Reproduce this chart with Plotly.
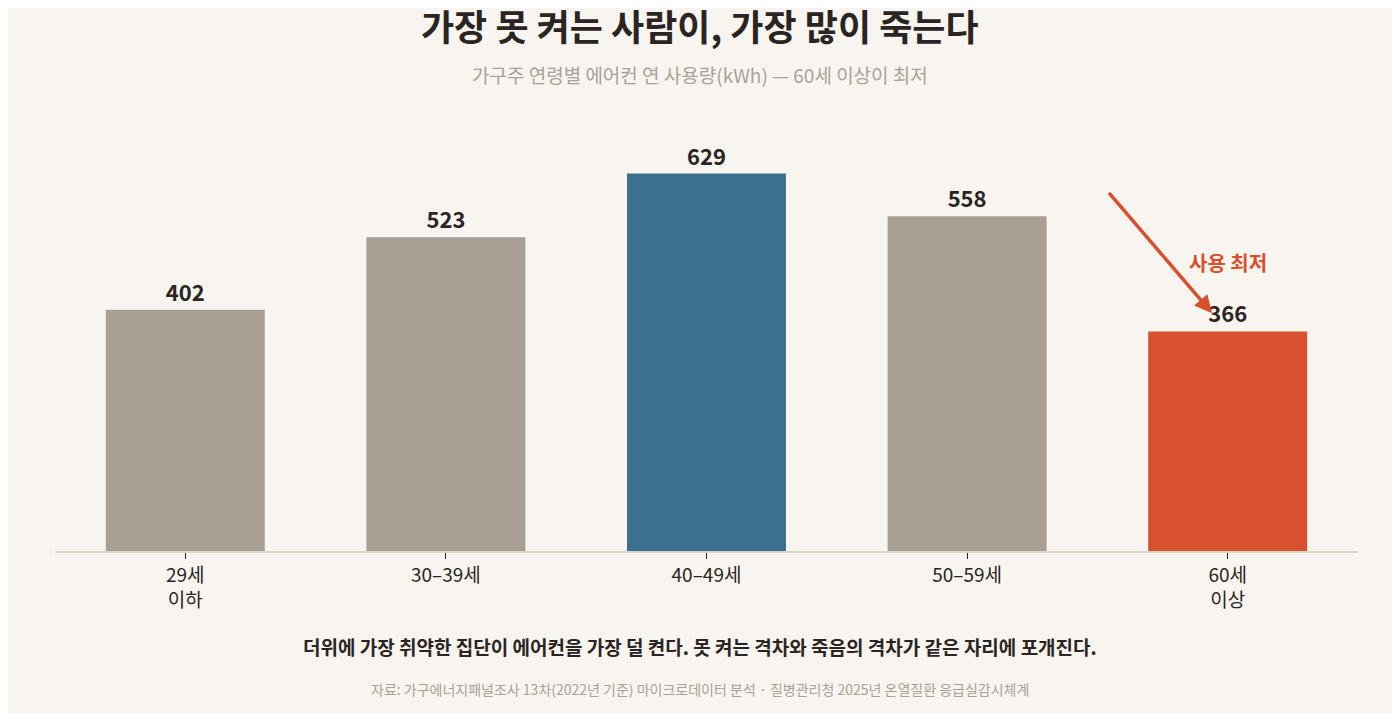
import plotly.graph_objects as go

categories = ["29세<br>이하", "30–39세", "40–49세", "50–59세", "60세<br>이상"]
usage_kwh = [402, 523, 629, 558, 366]
bar_colors = ["#a89e94", "#a89e94", "#3d6f8e", "#a89e94", "#d9502e"]

font = "Noto Sans CJK KR"
ink = "#2a2522"
red = "#d9502e"

# page body has an 8px margin, so compensate
W, H = 1392, 705
off = 8
ml, mr, mt = 55 - off, 42, 131 - off
plot_top, plot_bottom = 131, 551
mb = H - (plot_bottom - off)

fig = go.Figure()
fig.add_trace(
    go.Bar(
        x=categories,
        y=usage_kwh,
        marker={"color": bar_colors, "line": {"width": 0}},
        width=0.61,
        text=["<b>%d</b>" % v for v in usage_kwh],
        textposition="outside",
        textfont={"family": font, "size": 22, "color": ink},
        cliponaxis=False,
    )
)

# Callout on the 60+ bar
fig.add_annotation(
    x=4, y=366, xref="x", yref="y",
    ax=-120, ay=-140, axref="pixel", ayref="pixel",
    showarrow=True, arrowhead=2, arrowsize=1, arrowwidth=3.5,
    arrowcolor=red, standoff=24, text="",
)
fig.add_annotation(
    x=3.33, y=712, xref="x", yref="y", yanchor="top",
    text="<b>그런데 온열질환 사망자의<br>62.1%가 60세 이상</b>",
    showarrow=False, font={"family": font, "size": 24, "color": red},
)
fig.add_annotation(
    x=4, y=481, xref="x", yref="y",
    text="<b>사용 최저</b>", showarrow=False,
    font={"family": font, "size": 20, "color": red},
)

# Headline, subtitle, takeaway and source
texts = [
    (25, "<b>가장 못 켜는 사람이, 가장 많이 죽는다</b>", 36, ink),
    (74, "가구주 연령별 에어컨 연 사용량(kWh) — 60세 이상이 최저", 19, "#a9a29a"),
    (646, "<b>더위에 가장 취약한 집단이 에어컨을 가장 덜 켠다. 못 켜는 격차와 죽음의 격차가 같은 자리에 포개진다.</b>", 19, ink),
    (689, "자료: 가구에너지패널조사 13차(2022년 기준) 마이크로데이터 분석 · 질병관리청 2025년 온열질환 응급실감시체계", 14, "#a9a29a"),
]
for ypx, txt, size, color in texts:
    yp = (plot_bottom - ypx) / (plot_bottom - plot_top)
    fig.add_annotation(
        x=(700 - 55) / (1400 - 55 - 42), xref="paper", y=yp, yref="paper",
        xanchor="center", yanchor="middle",
        text=txt, showarrow=False, font={"family": font, "size": size, "color": color},
    )

fig.update_xaxes(
    showline=True, linecolor="#ddd5c8", linewidth=2,
    ticks="outside", ticklen=6, tickcolor=ink,
    tickfont={"family": font, "size": 19, "color": ink},
    showgrid=False,
)
fig.update_yaxes(visible=False, range=[0, 700], showgrid=False)
fig.update_layout(
    width=W, height=H,
    paper_bgcolor="#f8f4ef", plot_bgcolor="#f8f4ef",
    margin={"l": ml, "r": mr, "t": mt, "b": mb, "autoexpand": False},
    showlegend=False,
    font={"family": font},
)

fig.write_html("out.html")
